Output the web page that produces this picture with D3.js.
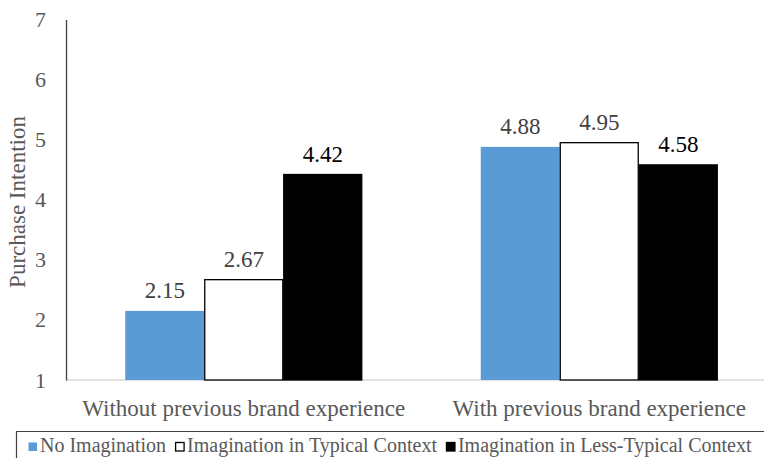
<!DOCTYPE html>
<html><head><meta charset="utf-8">
<script src="https://cdn.jsdelivr.net/npm/d3@7"></script>
</head><body style="margin:0"><svg id="c" width="764" height="458"></svg>
<script>
const categories = ["Without previous brand experience", "With previous brand experience"];
const seriesNames = ["No Imagination", "Imagination in Typical Context", "Imagination in Less-Typical Context"];
const noImagination = [2.15, 4.88];
const typicalContext = [2.67, 4.95];
const lessTypicalContext = [4.42, 4.58];
const yTicks = [1, 2, 3, 4, 5, 6, 7];
const yLabel = "Purchase Intention";

const FONT = "Liberation Serif";
const series = [noImagination, typicalContext, lessTypicalContext];
const fills = ["#5b9bd5", "#ffffff", "#000000"];
const strokes = ["none", "#000000", "#000000"];
const labelColors = ["#404040", "#404040", "#000000"];

const svg = d3.select("#c");
const x0 = d3.scaleBand().domain(categories).range([66, 777]).paddingInner(0).paddingOuter(0);
const groupW = 237;
const x1 = d3.scaleBand().domain(d3.range(series.length)).range([0, groupW]).padding(0);
const y = d3.scaleLinear().domain([1, 7]).range([380, 19.5]);

svg.append("rect").attr("width", 764).attr("height", 458).attr("fill", "#fff");

// baseline
svg.append("line").attr("x1", 66).attr("x2", 764).attr("y1", y(1)).attr("y2", y(1))
  .attr("stroke", "#d9d9d9").attr("stroke-width", 1.5);

// y axis
const yAxis = d3.axisLeft(y).tickValues(yTicks).tickSize(0).tickPadding(20).tickFormat(d3.format("d"));
const ga = svg.append("g").attr("transform", "translate(66,0)").call(yAxis);
ga.attr("font-family", FONT);
ga.select(".domain").attr("stroke", "#404040").attr("stroke-width", 1.3);
ga.selectAll("text").attr("font-family", FONT).attr("font-size", 22).attr("fill", "#595959");

// y label
svg.append("text").attr("font-family", FONT).attr("transform", `translate(25,202) rotate(-90)`)
  .attr("text-anchor", "middle").attr("font-size", 23).attr("fill", "#595959").text(yLabel);

// bars
categories.forEach((c, ci) => {
  const gx = x0(c) + (x0.bandwidth() - groupW) / 2;
  series.forEach((s, si) => {
    const bx = gx + x1(si);
    const bw = x1.bandwidth();
    svg.append("rect").attr("x", bx + (strokes[si] !== "none" ? 0.5 : 0)).attr("y", y(s[ci]))
      .attr("width", bw - (strokes[si] !== "none" ? 1 : 0)).attr("height", y(1) - y(s[ci]))
      .attr("fill", fills[si]).attr("stroke", strokes[si]).attr("stroke-width", 1.3);
    svg.append("text").attr("font-family", FONT).attr("x", bx + bw / 2).attr("y", y(s[ci]) - 13)
      .attr("text-anchor", "middle").attr("font-size", 23).attr("fill", labelColors[si])
      .text(d3.format(".2f")(s[ci]));
  });
  svg.append("text").attr("font-family", FONT).attr("x", x0(c) + x0.bandwidth() / 2).attr("y", 416)
    .attr("text-anchor", "middle").attr("font-size", 23).attr("fill", "#595959").text(c);
});

// legend box
svg.append("path").attr("d", "M16.5,458 V431.5 H764").attr("fill", "none").attr("stroke", "#404040").attr("stroke-width", 1.2);

let lx = 28;
seriesNames.forEach((n, i) => {
  svg.append("rect").attr("x", lx + 0.5).attr("y", 442.5).attr("width", 8.5).attr("height", 8.5)
    .attr("fill", fills[i]).attr("stroke", i === 0 ? "none" : "#000").attr("stroke-width", 1.3);
  const t = svg.append("text").attr("font-family", FONT).attr("x", lx + 12).attr("y", 452).attr("font-size", 20).attr("fill", "#595959").text(n);
  lx += 12 + t.node().getComputedTextLength() + 9;
});
</script></body></html>
